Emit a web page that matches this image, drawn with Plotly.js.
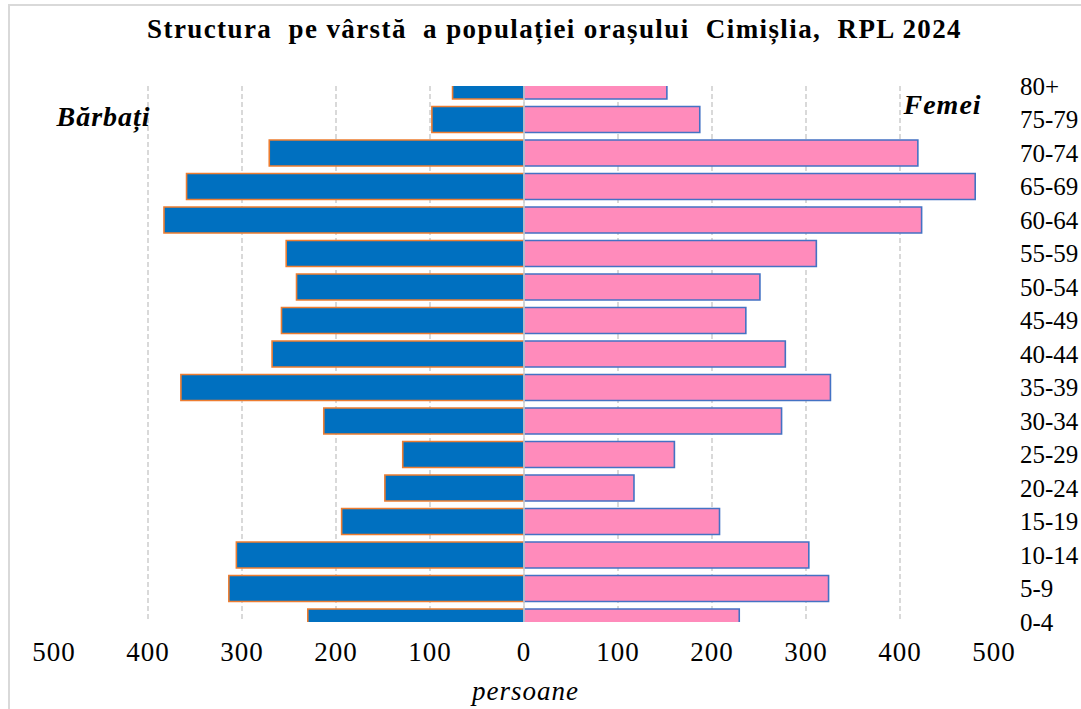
<!DOCTYPE html>
<html>
<head>
<meta charset="utf-8">
<script src="https://cdn.plot.ly/plotly-3.0.1.min.js"></script>
<style>
  html, body { margin: 0; padding: 0; background: #fff; overflow: hidden; }
  #chart { width: 1081px; height: 709px; position: absolute; left: 0; top: 0; }
  #chart text { letter-spacing: 1px; }
  #chart .gtitle { letter-spacing: 1.4px; }
  #chart .ytick text { letter-spacing: 0px; }
  #frame { position: absolute; left: 8px; top: 4px; width: 1200px; height: 800px;
           border: 2px solid #D9D9D9; pointer-events: none; }
</style>
</head>
<body>
<div id="chart"></div>
<div id="frame"></div>
<script>
const ageGroups = ["0-4","5-9","10-14","15-19","20-24","25-29","30-34","35-39","40-44",
                   "45-49","50-54","55-59","60-64","65-69","70-74","75-79","80+"];
const male   = [230, 314, 306, 194, 148, 129, 213, 365, 268, 258, 242, 253, 383, 359, 271, 98, 76];
const female = [229, 324, 303, 208, 117, 160, 274, 326, 278, 236, 251, 311, 423, 480, 419, 187, 152];
const tickValues = [-500, -400, -300, -200, -100, 0, 100, 200, 300, 400, 500];
const tickLabels = ["500", "400", "300", "200", "100", "0", "100", "200", "300", "400", "500"];

const serif = "Times New Roman, Liberation Serif, DejaVu Serif, serif";

const traces = [
  {
    type: 'bar', orientation: 'h', name: 'Bărbați',
    y: ageGroups, x: male.map(v => -v),
    marker: { color: '#0070C0', line: { color: '#ED7D31', width: 1.6 } },
    hoverinfo: 'skip'
  },
  {
    type: 'bar', orientation: 'h', name: 'Femei',
    y: ageGroups, x: female,
    marker: { color: '#FF8BBB', line: { color: '#4472C4', width: 1.6 } },
    hoverinfo: 'skip'
  }
];

const layout = {
  width: 1081, height: 709,
  margin: { l: 54, r: 87, t: 86, b: 87, pad: 0 },
  paper_bgcolor: '#ffffff', plot_bgcolor: '#ffffff',
  barmode: 'overlay', bargap: 0.22,
  showlegend: false,
  font: { family: serif, color: '#000000', size: 26 },
  title: {
    text: '<b>Structura  pe vârstă  a populației orașului  Cimișlia,  RPL 2024</b>',
    font: { family: serif, size: 27, color: '#000000' },
    x: 0.513, xref: 'container', xanchor: 'center',
    y: 0.96, yref: 'container', yanchor: 'middle'
  },
  xaxis: {
    range: [-500, 500],
    tickmode: 'array', tickvals: tickValues, ticktext: tickLabels,
    showgrid: true, gridcolor: '#D9D9D9', gridwidth: 1.2, griddash: '5px,3px',
    zeroline: false, showline: false, ticks: '',
    tickfont: { family: serif, size: 27, color: '#000000' },
    ticklabelstandoff: 11,
    fixedrange: true
  },
  yaxis: {
    type: 'category', categoryorder: 'array', categoryarray: ageGroups,
    range: [0, 16],
    side: 'right',
    showgrid: false, zeroline: false, showline: false, ticks: '',
    tickfont: { family: serif, size: 25, color: '#000000' },
    ticklabelstandoff: 25,
    fixedrange: true
  },
  shapes: [
    { type: 'line', xref: 'x', yref: 'paper', x0: 0, x1: 0, y0: 0, y1: 1,
      line: { color: '#D0D0D0', width: 1.5 }, layer: 'above' }
  ],
  annotations: [
    { text: '<b><i>Bărbați</i></b>', xref: 'paper', yref: 'paper',
      x: 0.003, y: 0.942, xanchor: 'left', yanchor: 'middle', showarrow: false,
      font: { family: serif, size: 28, color: '#000000' } },
    { text: '<b><i>Femei</i></b>', xref: 'paper', yref: 'paper',
      x: 0.986, y: 0.966, xanchor: 'right', yanchor: 'middle', showarrow: false,
      font: { family: serif, size: 28, color: '#000000' } },
    { text: '<i>persoane</i>', xref: 'x', yref: 'paper',
      x: 0, y: -0.158, xanchor: 'center', yanchor: 'bottom', showarrow: false,
      borderpad: 0,
      font: { family: serif, size: 27, color: '#000000' } }
  ]
};

Plotly.newPlot('chart', traces, layout, { displayModeBar: false, staticPlot: true });
</script>
</body>
</html>
